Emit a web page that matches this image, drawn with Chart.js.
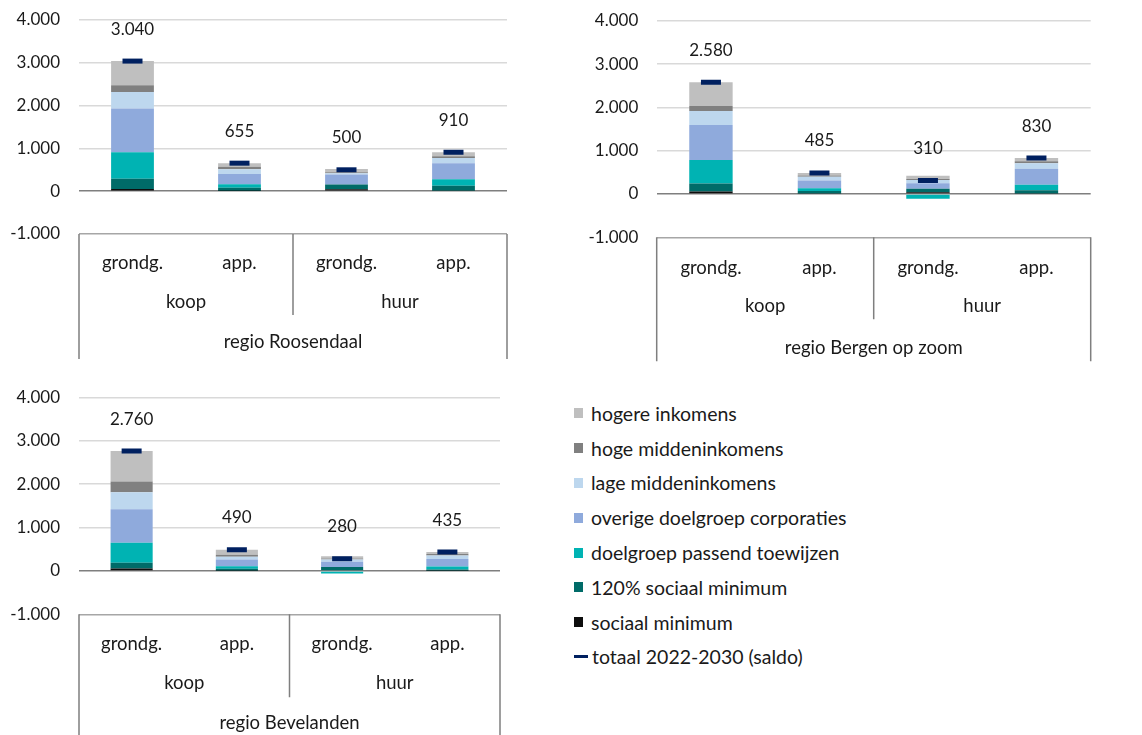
<!DOCTYPE html>
<html><head><meta charset="utf-8">
<script src="https://cdn.jsdelivr.net/npm/chart.js@4.4.0/dist/chart.umd.min.js"></script>
<style>
body{margin:0;background:#fff;width:1142px;height:735px;overflow:hidden;position:relative;font-family:Lato,sans-serif;}
canvas{position:absolute;}
#legend{position:absolute;left:574px;top:396px;}
.li{height:34.8px;display:flex;align-items:center;font-size:19.5px;color:#1a1a1a;white-space:nowrap;}
.sw{width:9px;height:10px;margin-right:8px;}
.dash{width:14px;height:3px;margin-right:4px;}
</style></head><body>
<canvas id="c1" width="570" height="360" style="left:0;top:0"></canvas>
<canvas id="c2" width="572" height="370" style="left:570px;top:0"></canvas>
<canvas id="c3" width="570" height="355" style="left:0;top:380px"></canvas>
<div id="legend"></div>
<script>
// ---- data ----
const subCategories = ['grondg.', 'app.', 'grondg.', 'app.'];
const groupLabels = ['koop', 'huur'];
const regionNames = ['regio Roosendaal', 'regio Bergen op zoom', 'regio Bevelanden'];
const seriesNames = ['sociaal minimum', '120% sociaal minimum', 'doelgroep passend toewijzen',
  'overige doelgroep corporaties', 'lage middeninkomens', 'hoge middeninkomens', 'hogere inkomens'];
const totalName = 'totaal 2022-2030 (saldo)';
const yTicks = [-1000, 0, 1000, 2000, 3000, 4000];

// regio Roosendaal
const rsSociaalMinimum = [50, 5, 45, 10];
const rs120Sociaal = [240, 75, 110, 115];
const rsPassend = [620, 85, -20, 155];
const rsOverige = [1020, 235, 235, 375];
const rsLageMidden = [390, 110, 30, 120];
const rsHogeMidden = [155, 60, 25, 40];
const rsHogere = [565, 85, 75, 95];
const rsTotaal = [3040, 655, 500, 910];

// regio Bergen op zoom
const bzSociaalMinimum = [55, 10, 40, 10];
const bz120Sociaal = [185, 60, 80, 75];
const bzPassend = [545, 60, -110, 130];
const bzOverige = [810, 180, 130, 370];
const bzLageMidden = [320, 85, 70, 125];
const bzHogeMidden = [115, 30, 25, 45];
const bzHogere = [550, 60, 75, 75];
const bzTotaal = [2580, 485, 310, 830];

// regio Bevelanden
const bvSociaalMinimum = [55, 5, 15, 5];
const bv120Sociaal = [135, 45, 75, 30];
const bvPassend = [460, 55, -60, 65];
const bvOverige = [770, 160, 120, 175];
const bvLageMidden = [390, 60, 55, 80];
const bvHogeMidden = [250, 50, 22, 35];
const bvHogere = [700, 115, 53, 45];
const bvTotaal = [2760, 490, 280, 435];

// ---- styles ----
const seriesColors = ['#0d0d0d', '#006b68', '#00b3b3', '#8faadc', '#bdd7ee', '#808080', '#bfbfbf'];
const totalColor = '#002060';
const FONT_FAMILY = 'Lato, sans-serif';
const NUM_SIZE = 17;
const TXT_SIZE = 18.5;
const TEXT_COLOR = '#1a1a1a';

function fmt(v) {
  const s = String(Math.abs(v)).replace(/\B(?=(\d{3})+(?!\d))/g, '.');
  return (v < 0 ? '-' : '') + s;
}

const boxPlugin = {
  id: 'box',
  afterDraw(chart, args, opts) {
    const ctx = chart.ctx;
    const { left, right } = chart.chartArea;
    const x = chart.scales.x, y = chart.scales.y;
    const yb = y.getPixelForValue(-1000);
    ctx.save();
    ctx.strokeStyle = '#7f7f7f';
    ctx.lineWidth = 1.5;
    const mid = (x.getPixelForValue(1) + x.getPixelForValue(2)) / 2;
    ctx.beginPath();
    ctx.moveTo(left, yb); ctx.lineTo(left, yb + opts.outer);
    ctx.moveTo(right, yb); ctx.lineTo(right, yb + opts.outer);
    ctx.moveTo(mid, yb); ctx.lineTo(mid, yb + opts.divider);
    ctx.stroke();
    ctx.fillStyle = TEXT_COLOR;
    ctx.textAlign = 'center';
    ctx.textBaseline = 'middle';
    ctx.font = TXT_SIZE + 'px ' + FONT_FAMILY;
    groupLabels.forEach((g, i) => {
      const cx = (x.getPixelForValue(2 * i) + x.getPixelForValue(2 * i + 1)) / 2;
      ctx.fillText(g, cx, yb + opts.groupY);
    });
    ctx.fillText(opts.region, (left + right) / 2, yb + opts.regionY);
    ctx.font = NUM_SIZE + 'px ' + FONT_FAMILY;
    const meta = chart.getDatasetMeta(seriesNames.length);
    const totals = chart.data.datasets[seriesNames.length].data;
    meta.data.forEach((pt, i) => {
      ctx.fillText(fmt(totals[i]), pt.x, pt.y - 32);
    });
    ctx.restore();
  }
};

function makeChart(id, region, seriesData, totals, g) {
  const datasets = seriesNames.map((n, i) => ({
    type: 'bar', label: n, data: seriesData[i], backgroundColor: seriesColors[i],
    stack: 'bars', borderWidth: 0, categoryPercentage: 1, barPercentage: 0.4
  }));
  datasets.push({
    type: 'line', label: totalName, data: totals, stack: 'total', order: -1,
    showLine: false, pointStyle: 'line', pointRadius: 10, pointHoverRadius: 10,
    borderColor: totalColor, backgroundColor: totalColor, pointBorderWidth: 5, borderWidth: 5
  });
  return new Chart(document.getElementById(id), {
    data: { labels: subCategories, datasets },
    plugins: [boxPlugin],
    options: {
      responsive: false, animation: false,
      layout: { padding: { top: g.top, right: g.right, left: 0, bottom: 0 } },
      plugins: {
        legend: { display: false }, tooltip: { enabled: false },
        box: { region, outer: g.outer, divider: g.divider, groupY: g.groupY, regionY: g.regionY }
      },
      scales: {
        x: {
          stacked: true,
          grid: { display: false }, border: { display: false },
          ticks: { color: TEXT_COLOR, font: { family: FONT_FAMILY, size: TXT_SIZE }, padding: g.xpad, maxRotation: 0, autoSkip: false },
          afterFit: s => { s.height = g.xh; s.paddingLeft = 0; s.paddingRight = 0; }
        },
        y: {
          stacked: true, min: -1000, max: 4000,
          afterBuildTicks: s => { s.ticks = yTicks.map(v => ({ value: v })); },
          ticks: { color: TEXT_COLOR, font: { family: FONT_FAMILY, size: NUM_SIZE }, padding: g.ypad, callback: v => fmt(v) },
          grid: {
            drawTicks: false, lineWidth: 1.5,
            color: c => c.tick && c.tick.value === 0 ? '#7f7f7f' : (c.tick && c.tick.value === -1000 ? '#a6a6a6' : '#d9d9d9')
          },
          border: { display: false },
          afterFit: s => { s.width = g.yw; s.paddingTop = 0; s.paddingBottom = 0; }
        }
      }
    }
  });
}

makeChart('c1', regionNames[0],
  [rsSociaalMinimum, rs120Sociaal, rsPassend, rsOverige, rsLageMidden, rsHogeMidden, rsHogere], rsTotaal,
  { top: 20, right: 63, yw: 79, ypad: 19, xh: 126, xpad: 10, outer: 125, divider: 81, groupY: 68, regionY: 108 });
makeChart('c2', regionNames[1],
  [bzSociaalMinimum, bz120Sociaal, bzPassend, bzOverige, bzLageMidden, bzHogeMidden, bzHogere], bzTotaal,
  { top: 20.7, right: 51.3, yw: 86.7, ypad: 18.4, xh: 132.7, xpad: 12, outer: 124, divider: 82, groupY: 69, regionY: 111 });
makeChart('c3', regionNames[2],
  [bvSociaalMinimum, bv120Sociaal, bvPassend, bvOverige, bvLageMidden, bvHogeMidden, bvHogere], bvTotaal,
  { top: 17.3, right: 70, yw: 79, ypad: 19, xh: 120.7, xpad: 11, outer: 125, divider: 83, groupY: 69, regionY: 109 });

// legend (HTML)
const legend = document.getElementById('legend');
for (let i = seriesNames.length - 1; i >= 0; i--) {
  const d = document.createElement('div'); d.className = 'li';
  d.innerHTML = '<span class="sw" style="background:' + seriesColors[i] + '"></span>';
  d.appendChild(document.createTextNode(seriesNames[i]));
  legend.appendChild(d);
}
const t = document.createElement('div'); t.className = 'li';
t.innerHTML = '<span class="dash" style="background:' + totalColor + '"></span>';
t.appendChild(document.createTextNode(totalName));
legend.appendChild(t);
</script>
</body></html>
